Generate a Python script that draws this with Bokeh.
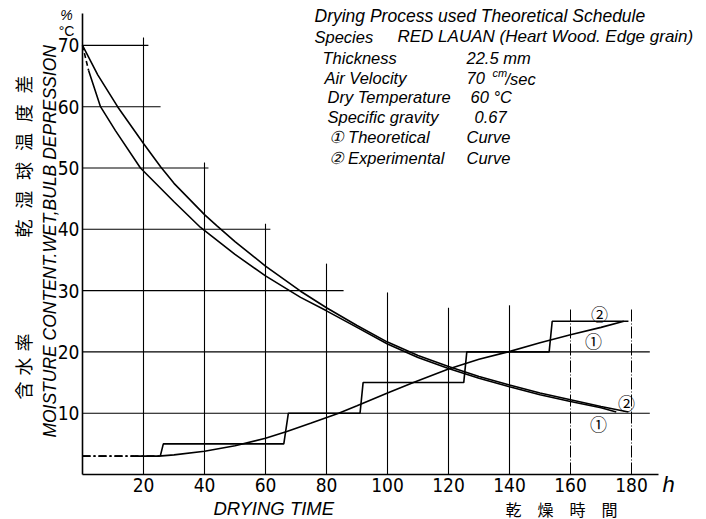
import numpy as np
from bokeh.plotting import figure
from bokeh.models import Range1d, FixedTicker, Label, LinearAxis
from bokeh.embed import file_html
from bokeh.resources import INLINE

# ---------------- DATA ----------------
# Moisture content (%) vs drying time (h)
mc_theo_t = [0, 2, 5.9, 10.8, 19, 30, 38.7, 50, 60, 71.5, 80, 90, 100, 110, 120, 130, 140, 150, 160, 170, 175]
mc_theo_v = [70, 65.9, 60, 56.1, 50, 44.5, 40.3, 35.9, 32.4, 28.9, 26.7, 24.0, 21.3, 19.1, 17.3, 15.7, 14.3, 13.0, 11.9, 10.9, 10.2]
mc_exp_t = [0, 5, 11.5, 20, 25.6, 30, 40, 44, 50, 60, 71.5, 80, 90, 100, 110, 120, 130, 140, 150, 160, 170, 179]
mc_exp_v = [70, 65.2, 60, 54.0, 50.2, 47.5, 42.4, 40.6, 38.0, 34.0, 29.9, 27.2, 24.3, 21.6, 19.4, 17.6, 16.0, 14.6, 13.3, 12.2, 11.1, 10.2]

# Wet-bulb depression (deg C) vs drying time (h)
wb_theo_t = [0, 17, 25, 30, 40, 50, 60, 67, 75, 84, 90, 100, 108.5, 120, 130, 139.5, 150, 160, 170, 177.5]
wb_theo_v = [3, 3, 3, 3.2, 3.8, 4.7, 5.9, 7.0, 8.4, 10, 11.2, 13.3, 15, 17.2, 18.8, 20, 21.5, 22.8, 24.0, 25]
wb_exp_t = [0, 25.5, 26.5, 66, 67.5, 91, 92, 125, 126, 153, 154, 179]
wb_exp_v = [3, 3, 5, 5, 10, 10, 15, 15, 20, 20, 25, 25]

x_ticks = [20, 40, 60, 80, 100, 120, 140, 160, 180]
y_ticks = [10, 20, 30, 40, 50, 60, 70]

# ---------------- LAYOUT ----------------
W, H = 706, 519
FX0, FY0 = 82, 474          # data origin in px
FX1, FY1 = 658, 13          # end of x axis / top of y axis in px
SX, SY = 3.05, 6.13         # px per unit


def dx(px):
    return (px - FX0) / SX


def dy(py):
    return (FY0 - py) / SY


# grid line extents (staircase-shaped grid of the original drawing)
h_grid_end = {10: 186, 20: 186, 30: 85.6, 40: 61.6, 50: 41.3, 60: 25.6, 70: 21.6}
v_grid_top = {20: 71.3, 40: 50.9, 60: 40.9, 80: 34.4, 100: 29.7, 120: 27.2, 140: 27.6, 160: 27.2, 180: 27.0}
dashed_verticals = [160, 180]

TXT = "Liberation Sans"
NUM = "Liberation Sans Narrow, DejaVu Sans Condensed, Liberation Sans"
JP = "Noto Sans CJK JP"

p = figure(width=W, height=H, output_backend="svg", toolbar_location=None,
           x_range=Range1d(dx(0), dx(W)), y_range=Range1d(dy(H), dy(0)),
           min_border=0, x_axis_location=None, y_axis_location=None)
p.xgrid.visible = False
p.ygrid.visible = False
p.outline_line_color = None
p.background_fill_color = "white"
p.border_fill_color = "white"

xaxis = LinearAxis(fixed_location=0, bounds=(0, dx(FX1)), ticker=FixedTicker(ticks=x_ticks))
yaxis = LinearAxis(fixed_location=0, bounds=(0, dy(FY1)), ticker=FixedTicker(ticks=y_ticks))
for ax in (xaxis, yaxis):
    ax.major_tick_out = 0
    ax.major_tick_in = 0
    ax.minor_tick_out = 0
    ax.minor_tick_in = 0
    ax.axis_line_width = 1.6
    ax.axis_line_color = "black"
    ax.major_label_standoff = 3
    ax.major_label_text_font = NUM
    ax.major_label_text_font_size = "19px"
    ax.major_label_text_color = "black"
p.add_layout(xaxis, "below")
p.add_layout(yaxis, "left")

# grid
hy = list(h_grid_end.keys())
p.segment(x0=[0] * len(hy), y0=hy, x1=[h_grid_end[k] for k in hy], y1=hy,
          line_color="black", line_width=1.1)
vs = [k for k in v_grid_top if k not in dashed_verticals]
p.segment(x0=vs, y0=[0] * len(vs), x1=vs, y1=[v_grid_top[k] for k in vs],
          line_color="black", line_width=1.1)
p.segment(x0=dashed_verticals, y0=[0] * len(dashed_verticals), x1=dashed_verticals,
          y1=[v_grid_top[k] for k in dashed_verticals],
          line_color="black", line_width=1.0, line_dash="12 2 1 2")

LW = 1.6
# moisture content curves
p.line(mc_theo_t[:2], mc_theo_v[:2], line_color="black", line_width=LW, line_dash="5 3")
p.line(mc_theo_t[1:], mc_theo_v[1:], line_color="black", line_width=LW)
p.line(mc_exp_t, mc_exp_v, line_color="black", line_width=LW)
# wet bulb depression curves
p.line(wb_theo_t[:2], wb_theo_v[:2], line_color="black", line_width=LW, line_dash="8 3 2 3")
p.line(wb_theo_t[1:], wb_theo_v[1:], line_color="black", line_width=LW)
p.line(wb_exp_t[:2], wb_exp_v[:2], line_color="black", line_width=LW, line_dash="8 3 2 3")
p.line(wb_exp_t[1:], wb_exp_v[1:], line_color="black", line_width=LW)


def lab(px, py, text, size=16.5, font=TXT, style="italic", align="left", angle=0.0):
    p.add_layout(Label(x=dx(px), y=dy(py), text=text, text_font=font,
                       text_font_size=f"{size}px", text_font_style=style,
                       text_align=align, text_baseline="middle", angle=angle,
                       text_color="black"))


# info block
lab(314, 15, "Drying Process used Theoretical Schedule", size=17.5)
lab(314, 36, "Species")
lab(397, 36, "RED LAUAN (Heart Wood. Edge grain)", size=17)
lab(322, 57, "Thickness")
lab(466, 57, "22.5 mm")
lab(324, 77, "Air Velocity")
lab(466, 77, "70")
lab(492, 72, "cm", size=11)
lab(505, 78, "/sec")
lab(327, 96, "Dry Temperature")
lab(470, 96, "60 °C")
lab(327, 116, "Specific gravity")
lab(474, 116, "0.67")
lab(328, 136, "① Theoretical")
lab(466, 136, "Curve")
lab(328, 157, "② Experimental")
lab(466, 157, "Curve")

# curve markers
lab(599, 313, "②", size=17, font=JP, style="normal", align="center")
lab(593, 340, "①", size=17, font=JP, style="normal", align="center")
lab(626, 402, "②", size=17, font=JP, style="normal", align="center")
lab(598, 423, "①", size=17, font=JP, style="normal", align="center")

# unit marks
lab(66, 14, "%", size=14, align="center")
lab(66, 30, "°C", size=14, style="normal", align="center")
lab(668, 484, "h", size=22, align="center")

# axis titles
lab(49, 236, "MOISTURE  CONTENT.WET,BULB  DEPRESSION", size=17.5,
    align="center", angle=np.pi / 2)
for i, ch in enumerate("乾湿球温度差"):
    lab(22, 228 - i * 28.8, ch, size=18, font=JP, style="normal", align="center", angle=np.pi / 2)
for i, ch in enumerate("含水率"):
    lab(22, 390 - i * 24, ch, size=18, font=JP, style="normal", align="center", angle=np.pi / 2)
lab(213, 508, "DRYING   TIME", size=18.5)
lab(505, 508, "乾\u3000燥\u3000時\u3000間", size=16, font=JP, style="normal")

open("out.html", "w").write(file_html(p, INLINE))
